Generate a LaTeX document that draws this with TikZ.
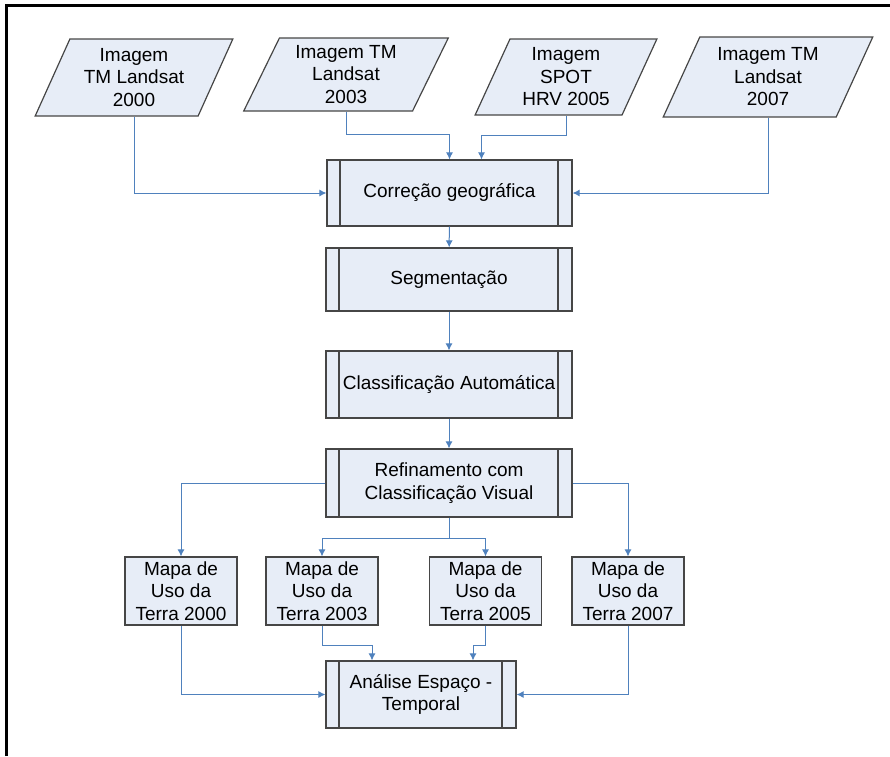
\documentclass[tikz,border=0pt]{standalone}
\usepackage{fontspec}
\setmainfont{Liberation Sans}
\usetikzlibrary{arrows.meta,shapes.geometric}
\definecolor{boxfill}{RGB}{231,237,247}
\definecolor{boxline}{RGB}{70,70,70}
\definecolor{flowblue}{RGB}{79,129,189}
\tikzset{
  imgbox/.style={trapezium, trapezium left angle=65, trapezium right angle=115,
    trapezium stretches=true, draw=boxline, fill=boxfill, line width=1.2pt,
    inner sep=0pt, minimum height=77pt, align=center},
  procbox/.style={rectangle, draw=boxline, fill=boxfill, line width=1.2pt,
    inner sep=0pt, minimum height=66pt, align=center,
    path picture={
      \draw[boxline, line width=1.2pt]
        ([xshift=13pt]path picture bounding box.north west) -- ([xshift=13pt]path picture bounding box.south west)
        ([xshift=-14pt]path picture bounding box.north east) -- ([xshift=-14pt]path picture bounding box.south east);}},
  mapbox/.style={rectangle, draw=boxline, fill=boxfill, line width=1.2pt,
    inner sep=0pt, minimum width=112pt, minimum height=68pt, align=center},
  flow/.style={draw=flowblue, line width=1pt, -{Latex[length=7pt,width=7pt]}}
}
\begin{document}
\begin{tikzpicture}[x=1pt, y=-1pt, font=\fontsize{19}{22.5}\selectfont]
  \useasboundingbox (0,0) rectangle (890,756);
  %%%%% frame %%%%%
  \draw[line width=2.5pt] (6.5,756) -- (6.5,5.5) -- (890,5.5);

  %%%%% input images %%%%%
  \node[imgbox, minimum width=198pt] (img1) at (134,77.5) {Imagem\\TM Landsat\\2000};
  \node[imgbox, minimum width=205pt, minimum height=73pt] (img2) at (346,74.5) {Imagem TM\\Landsat\\2003};
  \node[imgbox, minimum width=182pt, minimum height=76pt] (img3) at (566,77) {Imagem\\SPOT\\HRV 2005};
  \node[imgbox, minimum width=210pt, minimum height=80pt] (img4) at (768,77) {Imagem TM\\Landsat\\2007};

  %%%%% processing chain %%%%%
  \node[procbox, minimum width=245pt] (geo) at (449.5,193) {Corre\c{c}\~ao geogr\'afica};
  \node[procbox, minimum width=246pt, minimum height=63pt] (seg) at (449,279.5) {Segmenta\c{c}\~ao};
  \node[procbox, minimum width=246pt, minimum height=67pt] (auto) at (449,384.5) {Classifica\c{c}\~ao Autom\'atica};
  \node[procbox, minimum width=246pt, minimum height=68pt] (ref) at (449,483) {Refinamento com\\Classifica\c{c}\~ao Visual};

  %%%%% land use maps %%%%%
  \node[mapbox] (map1) at (181,591) {Mapa de\\Uso da\\Terra 2000};
  \node[mapbox] (map2) at (322,591) {Mapa de\\Uso da\\Terra 2003};
  \node[mapbox] (map3) at (485.5,591) {Mapa de\\Uso da\\Terra 2005};
  \node[mapbox] (map4) at (628,591) {Mapa de\\Uso da\\Terra 2007};

  \node[procbox, minimum width=190pt, minimum height=67pt] (anal) at (421,694.5) {An\'alise Espa\c{c}o -\\Temporal};

  %%%%% connectors %%%%%
  \draw[flow] (img1.south) |- (geo.west);
  \draw[flow] (img2.south) |- ([yshift=25pt]geo.north) -- (geo.north);
  \draw[flow] (img3.south) |- ([xshift=32pt,yshift=24pt]geo.north) -- ([xshift=32pt]geo.north);
  \draw[flow] (img4.south) |- (geo.east);

  \draw[flow] (geo) -- (seg);
  \draw[flow] (seg) -- (auto);
  \draw[flow] (auto) -- (ref);

  \draw[flow] (ref.west) -| (map1.north);
  \draw[flow] (ref.east) -| (map4.north);
  \draw[flow] (ref.south) -- ++(0,21) -| (map2.north);
  \draw[flow] (ref.south) -- ++(0,21) -| (map3.north);

  \draw[flow] (map1.south) |- (anal.west);
  \draw[flow] (map4.south) |- (anal.east);
  \draw[flow] (map2.south) |- ([xshift=-49pt,yshift=15pt]anal.north) -- ([xshift=-49pt]anal.north);
  \draw[flow] (map3.south) |- ([xshift=52pt,yshift=15pt]anal.north) -- ([xshift=52pt]anal.north);
\end{tikzpicture}
\end{document}
